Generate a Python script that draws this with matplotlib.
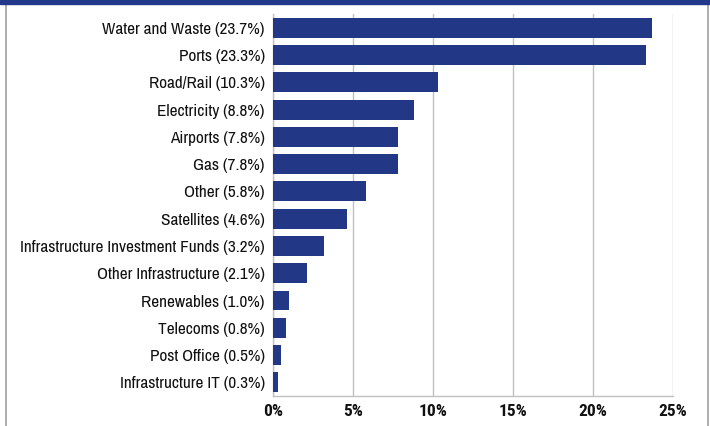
import matplotlib

matplotlib.use("Agg")
import matplotlib.pyplot as plt
from matplotlib.patches import Rectangle
from matplotlib.lines import Line2D
from matplotlib.ticker import FuncFormatter

sectors = [
    "Water and Waste",
    "Ports",
    "Road/Rail",
    "Electricity",
    "Airports",
    "Gas",
    "Other",
    "Satellites",
    "Infrastructure Investment Funds",
    "Other Infrastructure",
    "Renewables",
    "Telecoms",
    "Post Office",
    "Infrastructure IT",
]
shares = [23.7, 23.3, 10.3, 8.8, 7.8, 7.8, 5.8, 4.6, 3.2, 2.1, 1.0, 0.8, 0.5, 0.3]
xticks = [0, 5, 10, 15, 20, 25]

bar_color = "#233787"
grid_color = "#c0c0c0"
plt.rcParams["font.family"] = ["Archivo Narrow", "Roboto Condensed", "DejaVu Sans"]

fig = plt.figure(figsize=(7.1, 4.26), dpi=100)
ax = fig.add_axes([0.3845, 0.0704, 0.5635, 0.8966])

labels = [f"{s} ({v:.1f}%)" for s, v in zip(sectors, shares)]
y = list(range(len(sectors)))
ax.barh(y, shares, height=0.73, color=bar_color, zorder=3)
ax.set_yticks(y)
ax.set_yticklabels(labels, fontsize=12.4, color="#111111")
ax.set_ylim(len(sectors) - 0.5, -0.5)
ax.set_xlim(0, 25)
ax.set_xticks(xticks)
ax.xaxis.set_major_formatter(FuncFormatter(lambda v, p: f"{v:.0f}%"))
ax.tick_params(axis="x", labelsize=12.5, length=0, pad=6, labelcolor="#111111")
ax.tick_params(axis="y", length=0, pad=6)
for lab in ax.get_xticklabels():
    lab.set_family(["Roboto Condensed", "DejaVu Sans"])
    lab.set_fontweight("bold")

ax.grid(axis="x", color=grid_color, linewidth=1, zorder=0)
for side in ["top", "right"]:
    ax.spines[side].set_visible(False)
for side in ["left", "bottom"]:
    ax.spines[side].set_color(grid_color)
    ax.spines[side].set_linewidth(1)

# frame: dark top band and thin grey side borders
fig.patches.append(Rectangle((0, 1 - 3.5 / 426), 1, 3.5 / 426, transform=fig.transFigure,
                             color="#22388a", zorder=5))
fig.lines.append(Line2D([5.5 / 710, 5.5 / 710], [0, 1], transform=fig.transFigure,
                        color="#a0a0a0", linewidth=1.2))
fig.lines.append(Line2D([708 / 710, 708 / 710], [0, 1], transform=fig.transFigure,
                        color="#a0a0a0", linewidth=1.2))

fig.savefig("out.png", dpi=100)
